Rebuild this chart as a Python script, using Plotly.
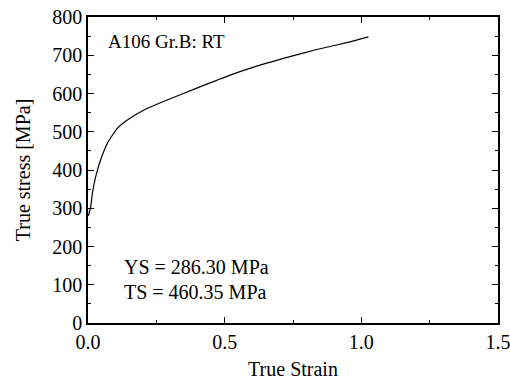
import plotly.graph_objects as go

strain = [0.0, 0.004, 0.010, 0.016, 0.028, 0.046, 0.071, 0.107, 0.144, 0.205, 0.276,
          0.398, 0.520, 0.629, 0.715, 0.837, 0.959, 1.026]
stress = [280, 287, 304, 339, 382, 426, 470, 509, 531, 557, 579,
          614, 648, 674, 692, 715, 735, 748]

x_ticks = [0.0, 0.5, 1.0, 1.5]
x_tick_text = ["0.0", "0.5", "1.0", "1.5"]
y_ticks = [0, 100, 200, 300, 400, 500, 600, 700, 800]

FONT = "Liberation Serif, Times New Roman, serif"

fig = go.Figure()
fig.add_trace(go.Scatter(x=strain, y=stress, mode="lines",
                         line=dict(color="black", width=1.2, shape="spline", smoothing=0.5),
                         showlegend=False))

axis_common = dict(showline=True, linecolor="black", linewidth=1.5, mirror="allticks",
                   ticks="inside", ticklen=6, tickwidth=1.2, tickcolor="black",
                   showgrid=False, zeroline=False, automargin=False,
                   ticklabeloverflow="allow",
                   tickfont=dict(family=FONT, size=20, color="black"))

fig.update_xaxes(range=[0, 1.5], tickvals=x_ticks, ticktext=x_tick_text,
                 minor=dict(ticks="inside", ticklen=3, dtick=0.25, tickcolor="black", tickwidth=1.2),
                 title=dict(text="True Strain", font=dict(family=FONT, size=20, color="black"), standoff=10),
                 **axis_common)
fig.update_yaxes(range=[0, 800], tickvals=y_ticks,
                 minor=dict(ticks="inside", ticklen=3, dtick=50, tickcolor="black", tickwidth=1.2),
                 title=dict(text="True stress [MPa]", font=dict(family=FONT, size=20, color="black"), standoff=16),
                 **axis_common)

fig.add_annotation(x=0.045, y=0.92, xref="paper", yref="paper", xanchor="left", yanchor="middle",
                   text="A106 Gr.B: RT", showarrow=False,
                   font=dict(family=FONT, size=19, color="black"))
fig.add_annotation(x=0.083, y=0.183, xref="paper", yref="paper", xanchor="left", yanchor="middle",
                   text="YS = 286.30 MPa", showarrow=False,
                   font=dict(family=FONT, size=20, color="black"))
fig.add_annotation(x=0.083, y=0.101, xref="paper", yref="paper", xanchor="left", yanchor="middle",
                   text="TS = 460.35 MPa", showarrow=False,
                   font=dict(family=FONT, size=20, color="black"))

fig.update_layout(width=510, height=383, margin=dict(l=88, r=12, t=17, b=60),
                  paper_bgcolor="white", plot_bgcolor="white",
                  font=dict(family=FONT, color="black"))

fig.write_html("out.html")
